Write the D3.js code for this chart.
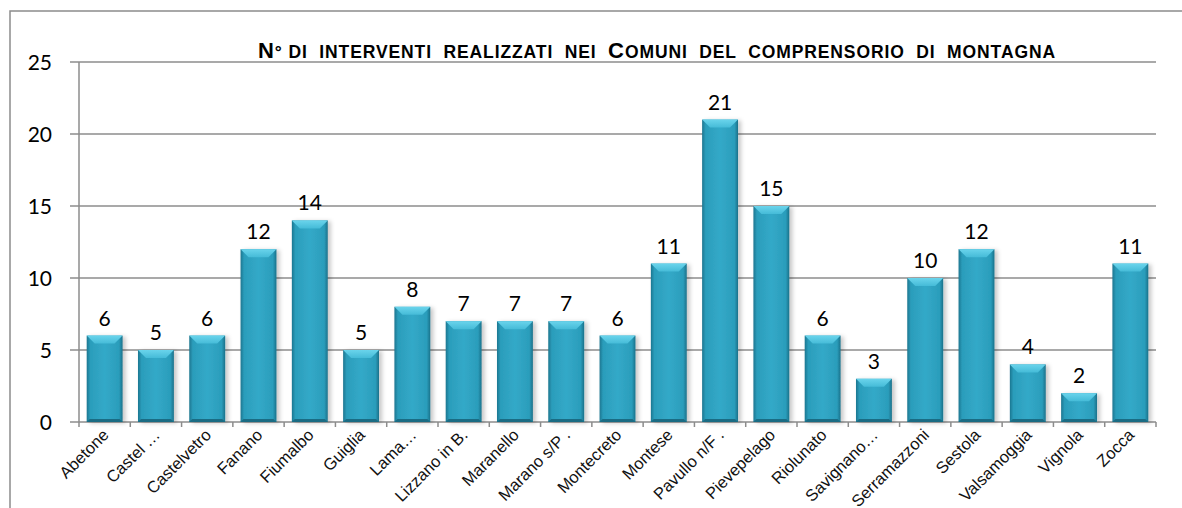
<!DOCTYPE html>
<html>
<head>
<meta charset="utf-8">
<script src="https://cdn.jsdelivr.net/npm/d3@7"></script>
<style>
  body { margin: 0; background: #fff; }
  svg { display: block; }
</style>
</head>
<body>
<div id="chart"></div>
<script>
// dati
const comuni = ["Abetone", "Castel \u2026", "Castelvetro", "Fanano", "Fiumalbo", "Guiglia", "Lama\u2026",
  "Lizzano in B.", "Maranello", "Marano s/P .", "Montecreto", "Montese", "Pavullo n/F .", "Pievepelago",
  "Riolunato", "Savignano\u2026", "Serramazzoni", "Sestola", "Valsamoggia", "Vignola", "Zocca"];
const interventi = [6, 5, 6, 12, 14, 5, 8, 7, 7, 7, 6, 11, 21, 15, 6, 3, 10, 12, 4, 2, 11];
const yTicks = [0, 5, 10, 15, 20, 25];

const W = 1182, H = 508;
const margin = { top: 62, right: 26, bottom: 86, left: 79 };
const width = W - margin.left - margin.right,
  height = H - margin.top - margin.bottom;

const svg = d3.select("#chart").append("svg")
  .attr("width", W).attr("height", H);

const defs = svg.append("defs");
const grad = defs.append("linearGradient").attr("id", "barGrad")
  .attr("x1", "0").attr("x2", "1").attr("y1", "0").attr("y2", "0");
grad.append("stop").attr("offset", "0%").attr("stop-color", "#1c7690");
grad.append("stop").attr("offset", "10%").attr("stop-color", "#2b9dbb");
grad.append("stop").attr("offset", "50%").attr("stop-color", "#33a9c8");
grad.append("stop").attr("offset", "90%").attr("stop-color", "#2b9dbb");
grad.append("stop").attr("offset", "100%").attr("stop-color", "#1a718a");

const topGrad = defs.append("linearGradient").attr("id", "topGrad")
  .attr("x1", "0").attr("x2", "0").attr("y1", "0").attr("y2", "1");
topGrad.append("stop").attr("offset", "0%").attr("stop-color", "#6ad4ec");
topGrad.append("stop").attr("offset", "100%").attr("stop-color", "#45bbd8");

const shadow = defs.append("filter").attr("id", "shadow")
  .attr("x", "-20%").attr("y", "-10%").attr("width", "150%").attr("height", "130%");
shadow.append("feDropShadow").attr("dx", 3).attr("dy", 1).attr("stdDeviation", 2)
  .attr("flood-color", "#000").attr("flood-opacity", 0.22);

// cornice esterna
svg.append("rect")
  .attr("x", 10).attr("y", 11).attr("width", W + 20).attr("height", H + 20)
  .attr("fill", "none").attr("stroke", "#8c8c8c").attr("stroke-width", 1.5);

const g = svg.append("g").attr("transform", `translate(${margin.left},${margin.top})`);

const x = d3.scaleBand().domain(comuni).range([0, width]).paddingInner(0.3).paddingOuter(0.15);
const y = d3.scaleLinear().domain([0, 25]).range([height, 0]);

// griglia
g.selectAll(".grid").data(yTicks).enter().append("line")
  .attr("x1", -9).attr("x2", width)
  .attr("y1", d => y(d)).attr("y2", d => y(d))
  .attr("stroke", "#8c8c8c").attr("stroke-width", 1.5);

// asse y
g.append("line").attr("x1", 0).attr("x2", 0).attr("y1", 0).attr("y2", height)
  .attr("stroke", "#8c8c8c").attr("stroke-width", 1.5);
g.selectAll(".ylab").data(yTicks).enter().append("text")
  .attr("x", -27).attr("y", d => y(d)).attr("dy", "0.36em")
  .attr("text-anchor", "end")
  .style("font-family", "Lato, 'Open Sans', sans-serif").style("font-size", "21px")
  .attr("fill", "#000").text(d => d);

// tick asse x
const step = width / comuni.length;
g.selectAll(".xt").data(d3.range(comuni.length + 1)).enter().append("line")
  .attr("x1", d => d * step).attr("x2", d => d * step)
  .attr("y1", height).attr("y2", height + 5)
  .attr("stroke", "#8c8c8c").attr("stroke-width", 1.5);

// barre
const bars = g.selectAll(".bar").data(comuni).enter().append("g");
bars.append("rect")
  .attr("x", d => x(d)).attr("y", (d, i) => y(interventi[i]))
  .attr("width", x.bandwidth()).attr("height", (d, i) => height - y(interventi[i]))
  .attr("fill", "url(#barGrad)").attr("filter", "url(#shadow)");
// smusso superiore
bars.append("path")
  .attr("d", (d, i) => {
    const x0 = x(d), x1 = x0 + x.bandwidth(), yt = y(interventi[i]), b = 8;
    return `M${x0},${yt}L${x1},${yt}L${x1 - b},${yt + b}L${x0 + b},${yt + b}Z`;
  })
  .attr("fill", "url(#topGrad)");
// smusso inferiore
bars.append("path")
  .attr("d", (d, i) => {
    const x0 = x(d), x1 = x0 + x.bandwidth(), yb = height, b = 3;
    return `M${x0},${yb}L${x1},${yb}L${x1 - b},${yb - b}L${x0 + b},${yb - b}Z`;
  })
  .attr("fill", "#1a6c84");

// etichette valori
g.selectAll(".val").data(comuni).enter().append("text")
  .attr("x", d => x(d) + x.bandwidth() / 2)
  .attr("y", (d, i) => y(interventi[i]) - 10)
  .attr("text-anchor", "middle")
  .style("font-family", "Lato, 'Open Sans', sans-serif").style("font-size", "21px")
  .text((d, i) => interventi[i]);

// etichette categorie
g.selectAll(".xlab").data(comuni).enter().append("text")
  .attr("transform", d => `translate(${x(d) + x.bandwidth() / 2 + 5},${height + 14}) rotate(-45)`)
  .attr("text-anchor", "end")
  .style("font-family", "'Liberation Sans', Arial, sans-serif").style("font-size", "16.5px")
  .attr("fill", "#111")
  .text(d => d);

// titolo (maiuscoletto)
const title = svg.append("text")
  .attr("x", 657).attr("y", 58).attr("text-anchor", "middle")
  .style("font-family", "'Liberation Sans', Arial, sans-serif").style("font-weight", "bold")
  .style("white-space", "pre")
  .attr("fill", "#000");
const parts = [["N", 22], ["\u00b0 DI  INTERVENTI  REALIZZATI  NEI  ", 17.5], ["C", 22], ["OMUNI  DEL  COMPRENSORIO  DI  MONTAGNA", 17.5]];
parts.forEach(p => title.append("tspan").style("font-size", p[1] + "px").text(p[0]));
// spaziatura per arrivare alla larghezza del titolo originale (~798px)
const natural = title.node().getComputedTextLength();
const nChars = parts.reduce((s, p) => s + p[0].length, 0);
title.style("letter-spacing", Math.max(0, Math.min(3, (798 - natural) / nChars)) + "px");
</script>
</body>
</html>
